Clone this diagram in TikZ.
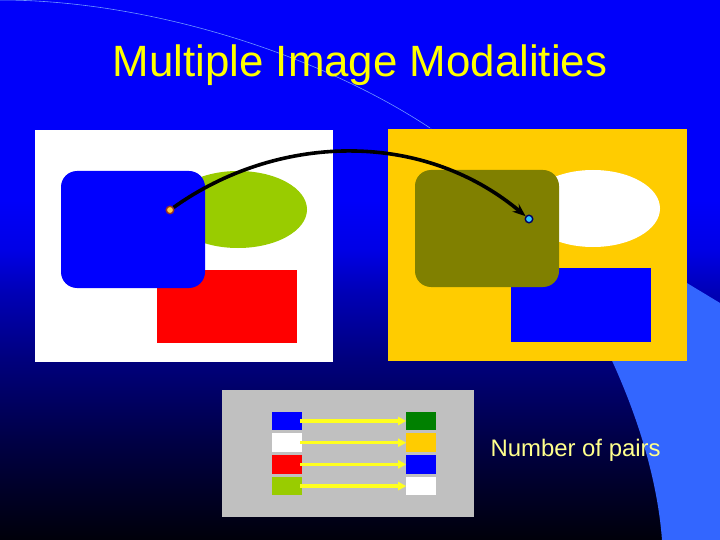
\documentclass[tikz,border=0pt]{standalone}
\usepackage{fontspec}
\setmainfont{Liberation Sans}
\usetikzlibrary{positioning,arrows.meta,shapes.geometric}
\definecolor{bgtop}{RGB}{0,0,250}
\definecolor{bgupper}{RGB}{0,0,230}
\definecolor{bgmid}{RGB}{0,0,185}
\definecolor{bgdeep}{RGB}{0,0,125}
\definecolor{bgnavy}{RGB}{0,0,70}
\definecolor{bgbottom}{RGB}{0,0,10}
\definecolor{wedgeblue}{RGB}{51,102,255}
\definecolor{arcblue}{RGB}{110,150,255}
\definecolor{titleyellow}{RGB}{255,255,0}
\definecolor{labelyellow}{RGB}{255,255,140}
\definecolor{leafgreen}{RGB}{153,204,0}
\definecolor{goldyellow}{RGB}{255,204,0}
\definecolor{darkolive}{RGB}{128,128,0}
\definecolor{darkgreen}{RGB}{0,128,0}
\definecolor{pairgray}{RGB}{192,192,192}
\definecolor{pairyellow}{RGB}{255,255,30}
\definecolor{srcring}{RGB}{150,50,40}
\definecolor{srcfill}{RGB}{255,204,60}
\definecolor{dstring}{RGB}{0,0,100}
\definecolor{dstfill}{RGB}{50,200,255}
\pgfdeclareverticalshading{slidebg}{100bp}{color(0bp)=(bgbottom); color(25bp)=(bgbottom);
  color(34.3bp)=(bgnavy); color(41.7bp)=(bgdeep); color(48.2bp)=(bgmid);
  color(51.9bp)=(bgupper); color(56.5bp)=(bgtop); color(100bp)=(bgtop)}
\tikzset{%
panel/.style={rectangle,inner sep=0,outer sep=0},
blob/.style={rectangle,rounded corners=16bp,inner sep=0,minimum width=144bp,minimum height=117bp},
oval/.style={ellipse,inner sep=0,minimum width=#1,minimum height=77bp},
patch/.style={rectangle,inner sep=0,minimum width=140bp,minimum height=73bp},
swatch/.style={rectangle,inner sep=0,minimum width=30bp,minimum height=18.5bp},
pixel/.style={circle,inner sep=0,minimum size=7.5bp,line width=1.4bp},
match/.style={-{Stealth[length=13bp,width=10bp]},line width=3.6bp,black},
pairline/.style={-{Triangle[length=8bp,width=8bp]},draw=pairyellow,line width=3.2bp}
}
\begin{document}
\begin{tikzpicture}[x=1bp,y=-1bp]
  \useasboundingbox (0,0) rectangle (720,540);
  % slide background
  \shade[shading=slidebg] (0,0) rectangle (720,540);
  \fill[wedgeblue] (430,128) .. controls (530,190) and (650,380) .. (662,540)
    -- (720,540) -- (720,303) -- cycle;
  \draw[arcblue,line width=0.6bp] (0,0) .. controls (150,0) and (320,55) .. (430,128);

  \node[anchor=base,text=titleyellow,font=\fontsize{44}{50}\selectfont] (title) at (360,77) {Multiple Image Modalities};

  % first modality
  \node[panel,fill=white,minimum width=298bp,minimum height=232bp] (leftimg) at (184,246) {};
  \node[oval=138bp,fill=leafgreen] (lefte) at (238,209.5) {};
  \node[patch,fill=red] (leftr) at (227,306.5) {};
  \node[blob,fill=blue] (leftb) at (133,229.5) {};

  % second modality
  \node[panel,fill=goldyellow,minimum width=299bp,minimum height=232bp] (rightimg) at (537.5,245) {};
  \node[oval=134bp,fill=white] (righte) at (593,208.5) {};
  \node[patch,fill=blue,minimum height=74bp] (rightr) at (581,305) {};
  \node[blob,fill=darkolive] (rightb) at (487,228.5) {};

  \node[pixel,fill=srcfill,draw=srcring] (src) at (170,210) {};
  \node[pixel,fill=dstfill,draw=dstring] (dst) at (529,219) {};
  \draw[match] (src) .. controls (275,135) and (420,128) .. (dst);

  % intensity pairs
  \node[panel,fill=pairgray,minimum width=252bp,minimum height=127bp] (pairs) at (348,453.5) {};
  \begin{scope}[node distance=2.8bp]
    \node[swatch,fill=blue] (l1) at (287,421) {};
    \node[swatch,fill=white,below=of l1] (l2) {};
    \node[swatch,fill=red,below=of l2] (l3) {};
    \node[swatch,fill=leafgreen,below=of l3] (l4) {};
    \node[swatch,fill=darkgreen,right=104bp of l1] (r1) {};
    \node[swatch,fill=goldyellow,below=of r1] (r2) {};
    \node[swatch,fill=blue,below=of r2] (r3) {};
    \node[swatch,fill=white,below=of r3] (r4) {};
  \end{scope}
  \foreach \i in {1,...,4}
    \draw[pairline] ([xshift=-2bp]l\i.east) -- (r\i.west);

  \node[anchor=base west,text=labelyellow,font=\fontsize{24}{28}\selectfont] (count) at (487,456) {Number of pairs};
\end{tikzpicture}
\end{document}
